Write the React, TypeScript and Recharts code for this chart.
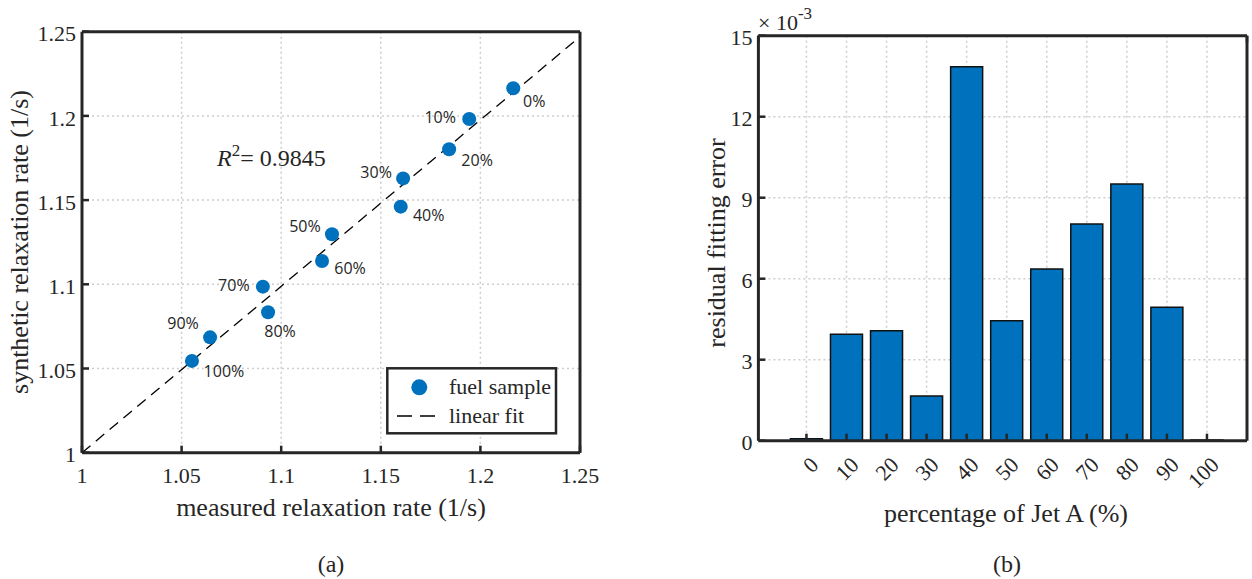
import React from 'react';
import { ScatterChart, Scatter, BarChart, Bar, XAxis, YAxis, CartesianGrid } from 'recharts';

// (a) synthetic vs measured relaxation rate, one point per fuel blend
const sampleLabels = ['0%', '10%', '20%', '30%', '40%', '50%', '60%', '70%', '80%', '90%', '100%'];
const measuredRate = [1.2165, 1.1944, 1.1843, 1.1612, 1.16, 1.1255, 1.1205, 1.0908, 1.0934, 1.0643, 1.0552];
const syntheticRate = [1.2164, 1.1982, 1.1802, 1.1629, 1.1461, 1.1297, 1.1138, 1.0986, 1.0834, 1.0685, 1.0545];
const fitMeasured = [1, 1.25];
const fitSynthetic = [1, 1.247];
const rateTicks = [1, 1.05, 1.1, 1.15, 1.2, 1.25];

// (b) residual fitting error (x 10^-3) by Jet A share
const jetAPercent = [0, 10, 20, 30, 40, 50, 60, 70, 80, 90, 100];
const residualError = [0.07, 3.94, 4.07, 1.66, 13.85, 4.44, 6.36, 8.03, 9.51, 4.94, 0.03];
const errorTicks = [0, 3, 6, 9, 12, 15];

// where each percentage label sits relative to its marker (px)
const labelOffsets = [
  [21, 13], [-29, -2], [28, 11], [-27, -6], [28, 9], [-27, -8],
  [28, 7], [-29, -1], [12, 19], [-27, -14], [32, 10],
];

const SERIF = '"Liberation Serif", "Times New Roman", serif';
const SANS = '"Open Sans", sans-serif';
const INK = '#262626';
const BLUE = '#0072BD';
const GRID = '#cdcdcd';
const TICK = 7;

const samples = sampleLabels.map((label, i) => ({ x: measuredRate[i], y: syntheticRate[i], label }));
const fitLine = fitMeasured.map((x, i) => ({ x, y: fitSynthetic[i] }));
const errorData = jetAPercent.map((pct, i) => ({ pct, err: residualError[i] }));

const tickText = { fontFamily: SERIF, fontSize: 22, fill: INK };

const BottomTick = (p: any) => (
  <g>
    <line x1={p.x} x2={p.x} y1={p.y} y2={p.y - TICK} stroke={INK} strokeWidth={2.5} />
    <text x={p.x} y={p.y + 23} dy="0.35em" textAnchor="middle" {...tickText}>
      {p.payload.value}
    </text>
  </g>
);

const RotatedTick = (p: any) => {
  const ax = p.x + 8;
  const ay = p.y + 20;
  return (
    <g>
      <line x1={p.x} x2={p.x} y1={p.y} y2={p.y - TICK} stroke={INK} strokeWidth={2.5} />
      <text x={ax} y={ay} dy="0.35em" textAnchor="end" transform={`rotate(-45 ${ax} ${ay})`} {...tickText}>
        {p.payload.value}
      </text>
    </g>
  );
};

const LeftTick = (p: any) => (
  <g>
    <line x1={p.x} x2={p.x + TICK} y1={p.y} y2={p.y} stroke={INK} strokeWidth={2.5} />
    <text x={p.x - 6} y={p.y + 2} dy="0.35em" textAnchor="end" {...tickText}>
      {p.payload.value}
    </text>
  </g>
);

const TopTick = (p: any) => (
  <line x1={p.x} x2={p.x} y1={p.y} y2={p.y + TICK} stroke={INK} strokeWidth={2.5} />
);

const RightTick = (p: any) => (
  <line x1={p.x} x2={p.x - TICK} y1={p.y} y2={p.y} stroke={INK} strokeWidth={2.5} />
);

const SampleDot = (p: any) => {
  const i = sampleLabels.indexOf(p.payload?.label);
  const [dx, dy] = labelOffsets[i] ?? [0, 0];
  return (
    <g>
      <circle cx={p.cx} cy={p.cy} r={7} fill={BLUE} />
      <text x={p.cx + dx} y={p.cy + dy} dy="0.35em" textAnchor="middle" fontFamily={SANS} fontSize={16} fill={INK}>
        {sampleLabels[i]}
      </text>
    </g>
  );
};

const frame = { stroke: INK, strokeWidth: 3 };

export default function App() {
  return (
    <div style={{ position: 'absolute', left: 0, top: 0, width: 1252, height: 579, background: '#fff', overflow: 'hidden' }}>
      {/* (a) */}
      <div style={{ position: 'absolute', left: 0, top: 0 }}>
        <ScatterChart width={620} height={579} margin={{ top: 30.7, right: 39, bottom: 86.3, left: 22 }}>
          <CartesianGrid stroke={GRID} strokeWidth={1.5} strokeDasharray="2 3" />
          <XAxis dataKey="x" type="number" domain={[1, 1.25]} ticks={rateTicks} interval={0} height={40}
            axisLine={frame} tickLine={false} tickSize={0} tickMargin={0} tick={BottomTick} />
          <XAxis xAxisId="top" orientation="top" type="number" domain={[1, 1.25]} ticks={rateTicks} interval={0} height={1}
            axisLine={frame} tickLine={false} tickSize={0} tickMargin={0} tick={TopTick} />
          <YAxis dataKey="y" type="number" domain={[1, 1.25]} ticks={rateTicks} interval={0} width={60}
            axisLine={frame} tickLine={false} tickSize={0} tickMargin={0} tick={LeftTick} />
          <YAxis yAxisId="right" orientation="right" type="number" domain={[1, 1.25]} ticks={rateTicks} interval={0} width={1}
            axisLine={frame} tickLine={false} tickSize={0} tickMargin={0} tick={RightTick} />
          <Scatter data={fitLine} line={{ stroke: '#000', strokeWidth: 1.3, strokeDasharray: '11 7' }}
            shape={() => <g />} isAnimationActive={false} />
          <Scatter data={samples} shape={SampleDot} isAnimationActive={false} />
        </ScatterChart>
      </div>

      {/* (b) */}
      <div style={{ position: 'absolute', left: 640, top: 0 }}>
        <BarChart width={612} height={579} data={errorData} barSize={32}
          margin={{ top: 34.7, right: 4, bottom: 98.3, left: 58.4 }}>
          <CartesianGrid stroke={GRID} strokeWidth={1.5} strokeDasharray="2 3" />
          <XAxis dataKey="pct" type="number" domain={[-12, 110]} ticks={jetAPercent} interval={0} height={40}
            axisLine={frame} tickLine={false} tickSize={0} tickMargin={0} tick={RotatedTick} />
          <XAxis xAxisId="top" orientation="top" type="number" domain={[-12, 110]} ticks={jetAPercent} interval={0} height={1}
            axisLine={frame} tickLine={false} tickSize={0} tickMargin={0} tick={TopTick} />
          <YAxis type="number" domain={[0, 15]} ticks={errorTicks} interval={0} width={60}
            axisLine={frame} tickLine={false} tickSize={0} tickMargin={0} tick={LeftTick} />
          <YAxis yAxisId="right" orientation="right" type="number" domain={[0, 15]} ticks={errorTicks} interval={0} width={1}
            axisLine={frame} tickLine={false} tickSize={0} tickMargin={0} tick={RightTick} />
          <Bar dataKey="err" fill={BLUE} stroke="#111" strokeWidth={1.5} isAnimationActive={false} />
        </BarChart>
      </div>

      {/* titles, annotation and legend */}
      <svg width={1252} height={579} style={{ position: 'absolute', left: 0, top: 0, pointerEvents: 'none' }}
        fontFamily={SERIF} fill={INK}>
        <text x={331} y={507} dy="0.35em" textAnchor="middle" fontSize={26}>measured relaxation rate (1/s)</text>
        <text x={19} y={242} dy="0.35em" textAnchor="middle" fontSize={26} transform="rotate(-90 19 242)">
          synthetic relaxation rate (1/s)
        </text>
        <text x={1006} y={513} dy="0.35em" textAnchor="middle" fontSize={26}>percentage of Jet A (%)</text>
        <text x={716} y={243} dy="0.35em" textAnchor="middle" fontSize={26} transform="rotate(-90 716 243)">
          residual fitting error
        </text>
        <text x={331} y={564} dy="0.35em" textAnchor="middle" fontSize={24}>(a)</text>
        <text x={1007} y={564} dy="0.35em" textAnchor="middle" fontSize={24}>(b)</text>

        <text x={217} y={166} fontSize={24}>
          <tspan fontStyle="italic">R</tspan>
          <tspan fontSize={17} dy={-10}>2</tspan>
          <tspan dy={10}>= 0.9845</tspan>
        </text>

        <text x={758} y={30} fontSize={22}>
          × 10<tspan fontSize={17} dy={-11}>-3</tspan>
        </text>

        <rect x={387.3} y={368.3} width={168.7} height={65} fill="#fff" stroke={INK} strokeWidth={2.5} />
        <circle cx={419.3} cy={387.3} r={8} fill={BLUE} />
        <text x={449} y={394} fontSize={22}>fuel sample</text>
        <line x1={397} x2={435} y1={416} y2={416} stroke="#000" strokeWidth={1.5} strokeDasharray="15 8" />
        <text x={449} y={423} fontSize={22}>linear fit</text>
      </svg>
    </div>
  );
}
